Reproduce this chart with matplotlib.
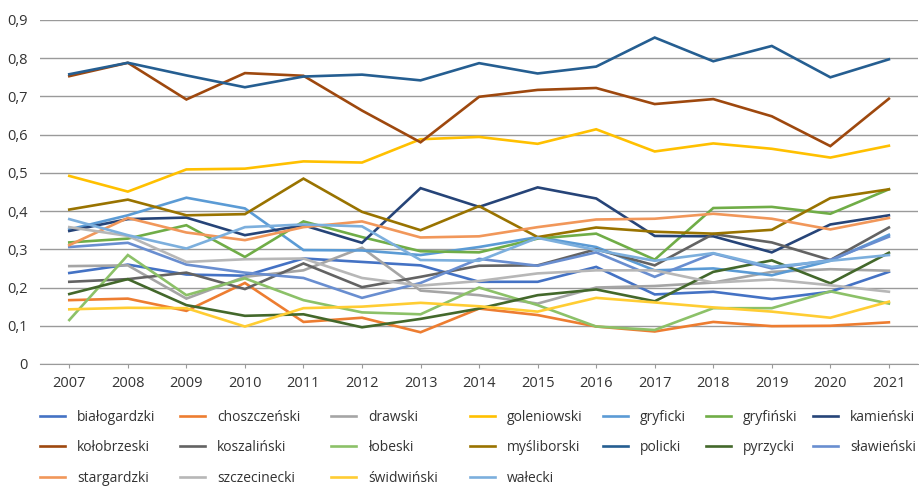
import matplotlib.pyplot as plt
from matplotlib.ticker import FuncFormatter

plt.rcParams['font.family'] = ['Open Sans', 'DejaVu Sans']

years = list(range(2007, 2022))

bialogardzki = [0.238, 0.26, 0.234, 0.231, 0.276, 0.267, 0.258, 0.215, 0.215, 0.254, 0.182, 0.189, 0.17, 0.189, 0.241]
choszczenski = [0.167, 0.171, 0.139, 0.212, 0.11, 0.121, 0.083, 0.145, 0.128, 0.098, 0.085, 0.11, 0.099, 0.1, 0.109]
drawski = [0.256, 0.258, 0.171, 0.228, 0.245, 0.304, 0.192, 0.18, 0.158, 0.2, 0.204, 0.213, 0.241, 0.248, 0.244]
goleniowski = [0.492, 0.451, 0.509, 0.511, 0.53, 0.527, 0.588, 0.594, 0.576, 0.614, 0.556, 0.577, 0.563, 0.54, 0.571]
gryficki = [0.352, 0.389, 0.435, 0.407, 0.298, 0.297, 0.285, 0.306, 0.332, 0.306, 0.245, 0.25, 0.232, 0.27, 0.338]
gryfinski = [0.318, 0.328, 0.363, 0.28, 0.373, 0.332, 0.295, 0.292, 0.328, 0.341, 0.273, 0.408, 0.411, 0.393, 0.457]
kamienski = [0.348, 0.379, 0.383, 0.337, 0.363, 0.317, 0.46, 0.411, 0.462, 0.433, 0.335, 0.334, 0.292, 0.365, 0.389]
kolobrzeski = [0.753, 0.788, 0.692, 0.761, 0.754, 0.663, 0.58, 0.699, 0.717, 0.722, 0.68, 0.693, 0.648, 0.57, 0.694]
koszalinski = [0.215, 0.222, 0.239, 0.196, 0.263, 0.201, 0.228, 0.257, 0.258, 0.3, 0.258, 0.34, 0.318, 0.272, 0.357]
lobeski = [0.115, 0.285, 0.18, 0.224, 0.167, 0.135, 0.13, 0.2, 0.154, 0.098, 0.089, 0.146, 0.146, 0.19, 0.158]
mysliborski = [0.404, 0.43, 0.389, 0.392, 0.485, 0.398, 0.35, 0.413, 0.332, 0.357, 0.346, 0.341, 0.351, 0.434, 0.457]
policki = [0.758, 0.788, 0.755, 0.724, 0.752, 0.757, 0.742, 0.787, 0.76, 0.778, 0.854, 0.792, 0.832, 0.75, 0.797]
pyrzycki = [0.183, 0.222, 0.154, 0.126, 0.13, 0.096, 0.118, 0.145, 0.18, 0.195, 0.164, 0.241, 0.271, 0.211, 0.291]
slawienski = [0.306, 0.317, 0.26, 0.239, 0.225, 0.173, 0.212, 0.275, 0.257, 0.292, 0.228, 0.289, 0.25, 0.272, 0.333]
stargardzki = [0.311, 0.382, 0.344, 0.324, 0.358, 0.373, 0.331, 0.334, 0.358, 0.378, 0.38, 0.393, 0.38, 0.352, 0.382]
szczecinecki = [0.358, 0.335, 0.267, 0.274, 0.276, 0.225, 0.205, 0.217, 0.237, 0.245, 0.245, 0.213, 0.221, 0.206, 0.189]
swidwinski = [0.143, 0.147, 0.146, 0.098, 0.146, 0.15, 0.16, 0.151, 0.137, 0.173, 0.161, 0.148, 0.137, 0.121, 0.163]
walecki = [0.379, 0.337, 0.302, 0.358, 0.365, 0.36, 0.272, 0.27, 0.33, 0.298, 0.27, 0.29, 0.254, 0.27, 0.285]

series = [
    ('białogardzki', bialogardzki, '#4472C4'),
    ('choszczeński', choszczenski, '#ED7D31'),
    ('drawski', drawski, '#A5A5A5'),
    ('goleniowski', goleniowski, '#FFC000'),
    ('gryficki', gryficki, '#5B9BD5'),
    ('gryfiński', gryfinski, '#70AD47'),
    ('kamieński', kamienski, '#264478'),
    ('kołobrzeski', kolobrzeski, '#9E480E'),
    ('koszaliński', koszalinski, '#636363'),
    ('łobeski', lobeski, '#8CC168'),
    ('myśliborski', mysliborski, '#997300'),
    ('policki', policki, '#255E91'),
    ('pyrzycki', pyrzycki, '#43682B'),
    ('sławieński', slawienski, '#698ED0'),
    ('stargardzki', stargardzki, '#F1975A'),
    ('szczecinecki', szczecinecki, '#B7B7B7'),
    ('świdwiński', swidwinski, '#FFCD33'),
    ('wałecki', walecki, '#7CAFDD'),
]

fig = plt.figure(figsize=(9.2, 4.87), dpi=100)
ax = fig.add_axes([0.0435, 0.2526, 0.9545, 0.7064])

lines = []
for name, vals, col in series:
    ln, = ax.plot(years, vals, color=col, lw=1.9, label=name, solid_joinstyle='miter')
    lines.append(ln)

ax.set_xlim(2006.5, 2021.5)
ax.set_ylim(0, 0.9)
ax.set_yticks([i / 10 for i in range(10)])
ax.yaxis.set_major_formatter(FuncFormatter(lambda v, p: '0' if v == 0 else f'{v:.1f}'.replace('.', ',')))
ax.set_xticks(years)
ax.grid(axis='y', color='#9a9a9a', lw=1)
ax.set_axisbelow(True)
for s in ['top', 'right', 'left']:
    ax.spines[s].set_visible(False)
ax.spines['bottom'].set_color('#9a9a9a')
ax.tick_params(axis='y', length=0, pad=9, labelsize=10.5, colors='#333333')
ax.tick_params(axis='x', length=3, color='#9a9a9a', pad=6, labelsize=10.5, labelcolor='#333333')

# one small legend per column, so the columns sit where they sit in the original
ncol = 7
col_x = [40, 180, 331, 470, 603, 706, 813]
for c in range(ncol):
    idx = list(range(c, len(lines), ncol))
    fig.legend([lines[i] for i in idx], [series[i][0] for i in idx],
               loc='upper left', bbox_to_anchor=(col_x[c] / 920, 0.158), ncol=1,
               frameon=False, fontsize=10, handlelength=1.8, handletextpad=0.85,
               labelspacing=1.1, borderpad=0, borderaxespad=0, labelcolor='#333333')

fig.savefig('out.png', dpi=100)
